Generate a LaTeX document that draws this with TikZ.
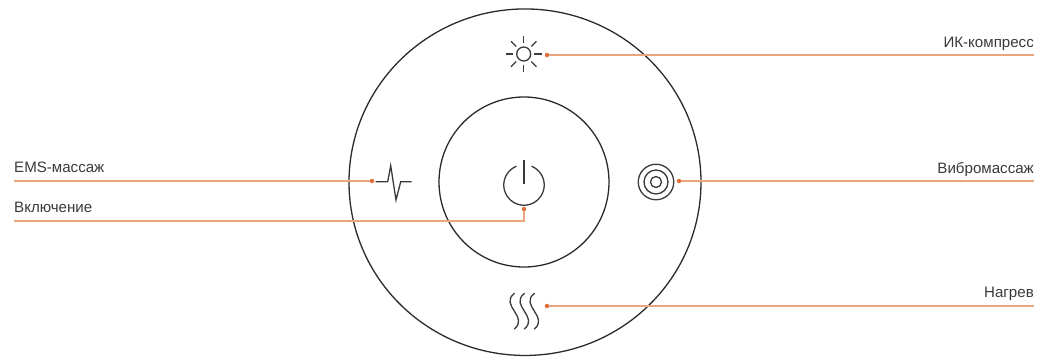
\documentclass[tikz,border=0pt]{standalone}
\usetikzlibrary{shapes.geometric}
\usepackage{fontspec}
\setmainfont{Liberation Sans}
\definecolor{lead}{HTML}{E8A580}
\definecolor{dotc}{HTML}{E0703A}
\definecolor{ink}{HTML}{2B2B2B}
\definecolor{icon}{HTML}{3A3A3A}
\tikzset{
  ring/.style={draw=ink,line width=1.3pt,fill=none},
  iconline/.style={draw=icon,line width=1.3pt},
  lead/.style={draw=lead,line width=1.3pt},
  leaddot/.style={circle,fill=dotc,draw=none,inner sep=0pt,minimum size=4.5pt},
  lab/.style={inner sep=0pt,text=icon,font=\fontsize{15.1}{17}\selectfont},
}
\begin{document}
\begin{tikzpicture}[x=1pt,y=-1pt]
\useasboundingbox (0,0) rectangle (1037,357);
\fill[white] (0,0) rectangle (1037,357);
\node[ring,ellipse,inner sep=0pt,minimum width=352pt,minimum height=346.5pt] (outer) at (525,182.2) {};
\node[ring,circle,inner sep=0pt,minimum size=170pt] (inner) at (524,182) {};
% sun
\node[iconline,circle,inner sep=0pt,minimum size=14pt] (sun) at (523.7,54) {};
\foreach \a in {0,45,...,315}{\draw[iconline] (523.7,54)++(\a:10.7) -- ++(\a:7.3);}
% pulse
\draw[iconline] (375.7,181.7) -- (387.7,181.7) -- (390.7,165.7) -- (396,200) -- (400.7,181.7) -- (411.7,181.7);
% power
\draw[iconline] plot[domain=-68:248,samples=80] ({524+20.2*cos(\x)},{185+20.2*sin(\x)});
\draw[iconline] (524,160) -- (524,184);
% vibro
\node[iconline,circle,inner sep=0pt,minimum size=11pt] (v0) at (656,182) {};
\node[iconline,circle,inner sep=0pt,minimum size=24pt,at=(v0)] (v1) {};
\node[iconline,circle,inner sep=0pt,minimum size=35.5pt,at=(v0)] (v2) {};
% heat
\foreach \x in {514.3,524.3,534.3}{
  \draw[iconline,line cap=round] (\x,293.5) .. controls (\x-15,305) and (\x+15,317) .. (\x,329);
}
% dots
\node[leaddot] (dIK) at (547,55) {};
\node[leaddot] (dEMS) at (372,181) {};
\node[leaddot] (dVib) at (679,181) {};
\node[leaddot] (dHeat) at (547,306) {};
\node[leaddot] (dPow) at (524,209) {};
% ends
\coordinate (eIK) at (1034,55);
\coordinate (eEMS) at (14,181);
\coordinate (eVib) at (1034,181);
\coordinate (eHeat) at (1034,306);
\coordinate (ePow) at (14,221);
\coordinate (cPow) at (524,221);
\draw[lead] (dIK) -- (eIK);
\draw[lead] (dEMS) -- (eEMS);
\draw[lead] (dVib) -- (eVib);
\draw[lead] (dHeat) -- (eHeat);
\draw[lead] (dPow) -- (cPow) -- (ePow);
% labels
\node[lab,anchor=base east] (tIK) at (1034,47.7) {ИК-компресс};
\node[lab,anchor=base west] (tEMS) at (14,172.7) {EMS-массаж};
\node[lab,anchor=base east] (tVib) at (1034,173) {Вибромассаж};
\node[lab,anchor=base east] (tHeat) at (1034,297) {Нагрев};
\node[lab,anchor=base west] (tPow) at (14,212) {Включение};
\end{tikzpicture}
\end{document}
